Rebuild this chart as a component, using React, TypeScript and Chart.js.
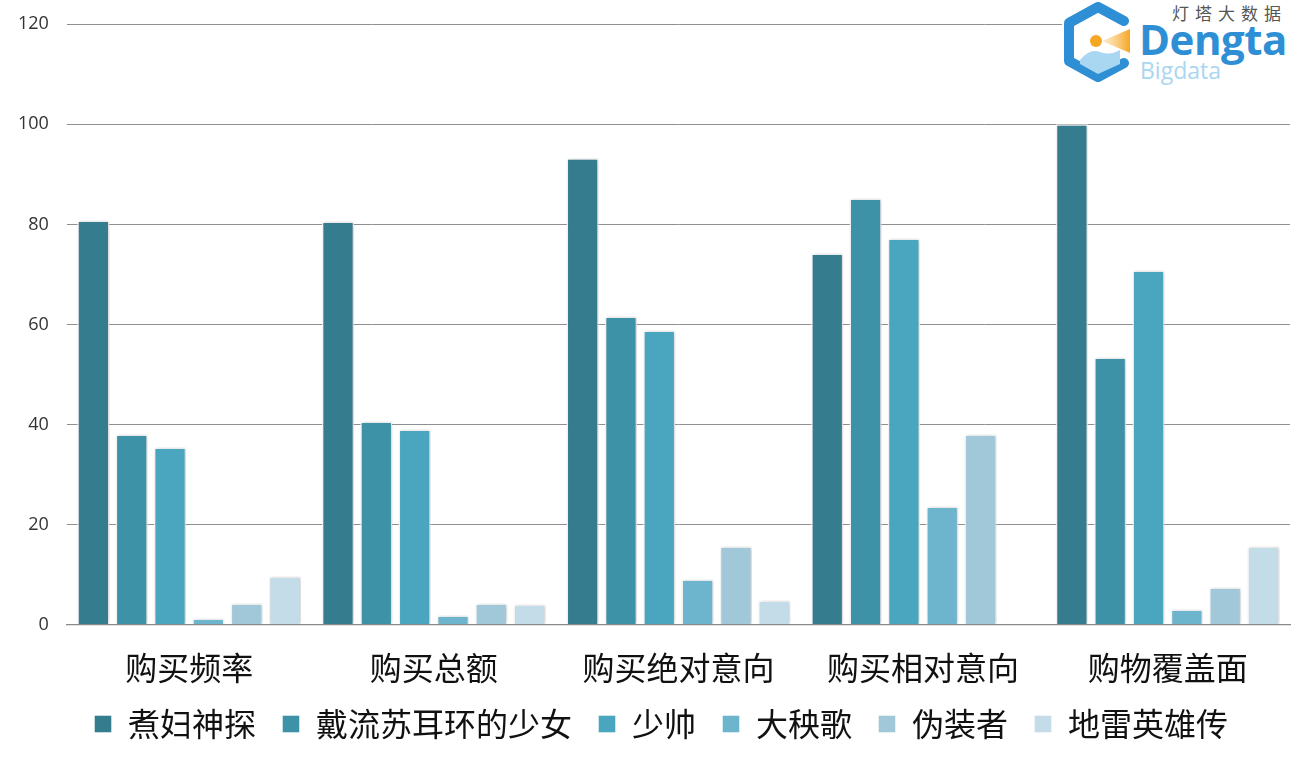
import React, { useEffect, useRef } from "react";
import { Chart, registerables } from "chart.js";

Chart.register(...registerables);

const categories = ["购买频率", "购买总额", "购买绝对意向", "购买相对意向", "购物覆盖面"];
const seriesNames = ["煮妇神探", "戴流苏耳环的少女", "少帅", "大秧歌", "伪装者", "地雷英雄传"];
const zhufuShentan = [80.8, 80.6, 93.2, 74.2, 100];
const dailiuSu = [38, 40.6, 61.6, 85.2, 53.4];
const shaoShuai = [35.4, 39, 58.8, 77.2, 70.8];
const daYangge = [1.2, 1.8, 9, 23.6, 3];
const weiZhuangzhe = [4.2, 4.2, 15.6, 38, 7.4];
const dileiYingxiong = [9.6, 4, 4.8, 0, 15.6];
const yTicks = [0, 20, 40, 60, 80, 100, 120];

const seriesValues = [zhufuShentan, dailiuSu, shaoShuai, daYangge, weiZhuangzhe, dileiYingxiong];
const seriesColors = ["#357c8e", "#3e92a8", "#4aa5bf", "#6db5cd", "#a0c8d8", "#c3dce7"];

const CJK = '"Noto Sans CJK SC", "Noto Sans", sans-serif';

const shadowPlugin = {
  id: "barShadow",
  beforeDatasetsDraw(chart: any) {
    const ctx = chart.ctx;
    ctx.save();
    ctx.shadowColor = "rgba(0,0,0,0.22)";
    ctx.shadowBlur = 4;
    ctx.shadowOffsetX = 1;
    ctx.shadowOffsetY = 0;
  },
  afterDatasetsDraw(chart: any) {
    chart.ctx.restore();
  },
};

// nudge the legend row to where it sits in the reference
const legendNudgePlugin = {
  id: "legendNudge",
  afterLayout(chart: any) {
    const lg = chart.legend;
    if (lg) {
      lg.top -= 7;
      lg.bottom -= 7;
      lg.left += 16;
      lg.right += 16;
    }
  },
};

function Logo() {
  return (
    <div
      style={{
        position: "absolute",
        left: 1062,
        top: 0,
        width: 236,
        height: 88,
        background: "#fff",
      }}
    >
      <svg width="80" height="84" style={{ position: "absolute", left: -2, top: 2 }} viewBox="0 0 80 84">
        <defs>
          <linearGradient id="tail" x1="0" x2="1" y1="0" y2="0">
            <stop offset="0" stopColor="#f7c46a" stopOpacity="0.3" />
            <stop offset="1" stopColor="#f5a623" />
          </linearGradient>
        </defs>
        <polyline
          points="64,19 38,5 9,21 9,59 38,75 64,61"
          fill="none"
          stroke="#2f8fd5"
          strokeWidth="10"
          strokeLinejoin="round"
          strokeLinecap="round"
        />
        <ellipse cx="36" cy="39" rx="6" ry="6" fill="#f5a623" />
        <polygon points="42,39 70,27 70,51" fill="url(#tail)" />
        <path d="M20,58 Q30,46 40,50 Q50,54 60,48 L60,62 L38,72 L20,62 Z" fill="#a9d6f0" />
      </svg>
      <div
        style={{
          position: "absolute",
          left: 110,
          top: 3,
          fontFamily: CJK,
          fontSize: 17,
          color: "#555",
          letterSpacing: 6,
          lineHeight: "20px",
        }}
      >
        灯塔大数据
      </div>
      <div
        style={{
          position: "absolute",
          left: 77,
          top: 14,
          fontFamily: '"Open Sans", sans-serif',
          fontWeight: 700,
          fontSize: 42,
          color: "#2f8fd5",
          lineHeight: "50px",
          letterSpacing: -0.5,
        }}
      >
        Dengta
      </div>
      <div
        style={{
          position: "absolute",
          left: 78,
          top: 56,
          fontFamily: '"Open Sans", sans-serif',
          fontSize: 23,
          color: "#a9d6f0",
          lineHeight: "28px",
        }}
      >
        Bigdata
      </div>
    </div>
  );
}

export default function App() {
  const canvasRef = useRef<HTMLCanvasElement | null>(null);

  useEffect(() => {
    if (!canvasRef.current) return;
    const chart = new Chart(canvasRef.current, {
      type: "bar",
      data: {
        labels: categories,
        datasets: seriesNames.map((name, i) => ({
          label: name,
          data: seriesValues[i],
          backgroundColor: seriesColors[i],
          borderColor: "rgba(255,255,255,0.95)",
          borderWidth: 1.5,
          categoryPercentage: 0.94,
          barPercentage: 0.84,
        })),
      },
      options: {
        animation: false,
        responsive: false,
        maintainAspectRatio: false,
        layout: { padding: { left: 0, right: 23, top: 10, bottom: 13 } },
        plugins: {
          tooltip: { enabled: false },
          legend: {
            position: "bottom",
            labels: {
              boxWidth: 18,
              boxHeight: 18,
              padding: 26,
              color: "#111",
              font: { family: CJK, size: 32 },
            },
          },
        },
        scales: {
          x: {
            grid: { display: false, drawTicks: true, tickLength: 22, tickColor: "rgba(0,0,0,0)" },
            border: { display: true, color: "#8a8a8a", width: 1.2 },
            ticks: {
              color: "#111",
              padding: 2,
              font: { family: CJK, size: 32 },
            },
          },
          y: {
            min: 0,
            max: 120,
            afterBuildTicks(axis: any) {
              axis.ticks = yTicks.map((v) => ({ value: v }));
            },
            grid: { color: "#8f8f8f", lineWidth: 1, drawTicks: false },
            border: { display: false },
            ticks: {
              color: "#333",
              padding: 18,
              font: { family: '"Open Sans", sans-serif', size: 18, lineHeight: 0.7 },
            },
          },
        },
      },
      plugins: [shadowPlugin, legendNudgePlugin],
    });
    return () => chart.destroy();
  }, []);

  return (
    <div style={{ position: "fixed", left: 0, top: 0, width: 1313, height: 770, background: "#fff" }}>
      <canvas ref={canvasRef} width={1313} height={770} style={{ width: 1313, height: 770, display: "block" }} />
      <Logo />
    </div>
  );
}
